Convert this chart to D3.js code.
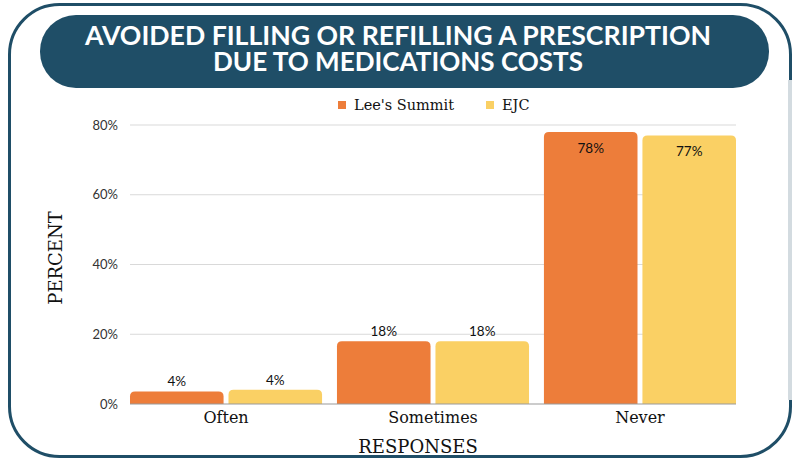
<!DOCTYPE html>
<html><head><meta charset="utf-8">
<script src="https://cdn.jsdelivr.net/npm/d3@7"></script>
<style>body{margin:0;background:#fff}svg{display:block}</style>
</head><body>
<svg id="c" width="793" height="461"></svg>
<script>
const categories = ["Often", "Sometimes", "Never"];
const seriesNames = ["Lee's Summit", "EJC"];
const leesSummit = [3.6, 18, 78];
const ejc = [4.1, 18, 77];
const yTicks = [0, 20, 40, 60, 80];
const titleLines = ["AVOIDED FILLING OR REFILLING A PRESCRIPTION", "DUE TO MEDICATIONS COSTS"];
const colors = ["#ED7D3A", "#FAD064"];

(function () {
const svg = d3.select("#c");
const dark = "#1f4e67";

// outer frame
svg.append("rect").attr("x", 9.5).attr("y", 4.5).attr("width", 781).attr("height", 452)
  .attr("rx", 50).attr("fill", "#fff").attr("stroke", dark).attr("stroke-width", 3);
svg.append("line").attr("x1", 790).attr("x2", 790).attr("y1", 80).attr("y2", 400)
  .attr("stroke", "#d3dbe0").attr("stroke-width", 4);

// banner
svg.append("rect").attr("x", 40).attr("y", 15).attr("width", 729).attr("height", 73)
  .attr("rx", 36).attr("fill", dark);
const tl = [626, 370];
const tys = [44.5, 70.5];
const title = svg.append("text").attr("text-anchor", "middle")
  .attr("font-family", "Lato").attr("font-weight", 700).attr("font-size", 26).attr("fill", "#fff");
titleLines.forEach((t, i) => {
  title.append("tspan").attr("x", 398).attr("y", tys[i])
    .attr("textLength", tl[i]).attr("lengthAdjust", "spacingAndGlyphs").text(t);
});

// legend
const legX = [338, 486];
seriesNames.forEach((s, i) => {
  svg.append("rect").attr("x", legX[i]).attr("y", 101).attr("width", 8).attr("height", 8).attr("fill", colors[i]);
  svg.append("text").attr("x", legX[i] + 16).attr("y", 110).attr("font-family", "DejaVu Serif")
    .attr("font-size", 14.5).attr("fill", "#111").text(s);
});

const pLeft = 130, pRight = 736, pTop = 125, pBottom = 404;
const y = d3.scaleLinear().domain([0, 80]).range([pBottom, pTop]);
const x0 = d3.scaleBand().domain(categories).range([pLeft, pRight]).paddingInner(0.072).paddingOuter(0);
const x1 = d3.scaleBand().domain(seriesNames).range([0, x0.bandwidth()]).paddingInner(0.05);

// grid
svg.append("g").selectAll("line").data(yTicks.filter(d => d > 0)).join("line")
  .attr("x1", pLeft).attr("x2", pRight).attr("y1", d => y(d)).attr("y2", d => y(d))
  .attr("stroke", "#d9d9d9").attr("stroke-width", 1.2);

// y labels
svg.append("g").selectAll("text").data(yTicks).join("text")
  .attr("x", 118).attr("y", d => y(d) + 4.5).attr("text-anchor", "end")
  .attr("font-family", "Lato").attr("font-size", 13).attr("fill", "#333")
  .text(d => d + "%");

// bars
const data = [];
categories.forEach((c, ci) => {
  data.push({c, s: seriesNames[0], v: leesSummit[ci], col: colors[0]});
  data.push({c, s: seriesNames[1], v: ejc[ci], col: colors[1]});
});
function topRounded(x, yTop, w, h, r) {
  r = Math.min(r, h, w / 2);
  return `M${x},${yTop + h}V${yTop + r}Q${x},${yTop} ${x + r},${yTop}H${x + w - r}Q${x + w},${yTop} ${x + w},${yTop + r}V${yTop + h}Z`;
}
svg.append("g").selectAll("path").data(data).join("path")
  .attr("d", d => topRounded(x0(d.c) + x1(d.s), y(d.v), x1.bandwidth(), pBottom - y(d.v), 5))
  .attr("fill", d => d.col);

// value labels
svg.append("g").selectAll("text").data(data).join("text")
  .attr("x", d => x0(d.c) + x1(d.s) + x1.bandwidth() / 2)
  .attr("y", d => d.v > 50 ? y(d.v) + 21 : y(d.v) - 5)
  .attr("text-anchor", "middle").attr("font-family", "Lato").attr("font-size", 13.5)
  .attr("fill", "#111").text(d => Math.round(d.v) + "%");

// baseline
svg.append("line").attr("x1", pLeft).attr("x2", pRight).attr("y1", pBottom).attr("y2", pBottom)
  .attr("stroke", "#999").attr("stroke-width", 1.2);

// x category labels
svg.append("g").selectAll("text").data(categories).join("text")
  .attr("x", d => x0(d) + x0.bandwidth() / 2).attr("y", 423).attr("text-anchor", "middle")
  .attr("font-family", "DejaVu Serif").attr("font-size", 16).attr("fill", "#111").text(d => d);

svg.append("text").attr("x", 418).attr("y", 453).attr("text-anchor", "middle")
  .attr("font-family", "DejaVu Serif").attr("font-size", 18).attr("fill", "#111").text("RESPONSES");
svg.append("text").attr("transform", "translate(62,258) rotate(-90)").attr("text-anchor", "middle")
  .attr("font-family", "DejaVu Serif").attr("font-size", 18).attr("fill", "#111").text("PERCENT");
})();
</script>
</body></html>
